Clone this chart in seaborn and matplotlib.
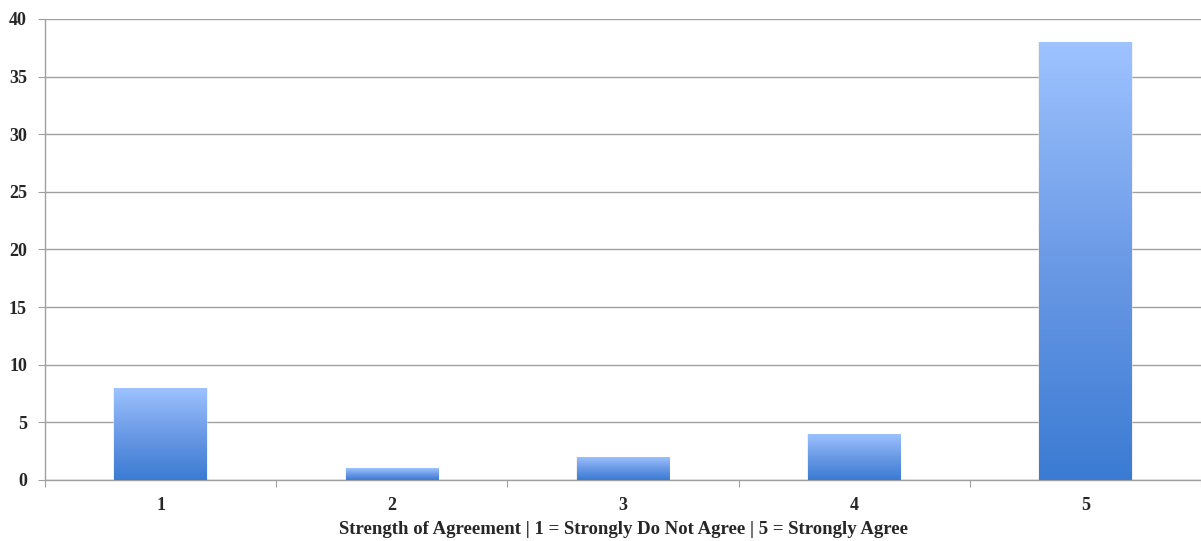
import numpy as np
import pandas as pd
import matplotlib
matplotlib.use("Agg")
import matplotlib.pyplot as plt
import seaborn as sns
from matplotlib.colors import LinearSegmentedColormap

categories = ["1", "2", "3", "4", "5"]
counts = [8, 1, 2, 4, 38]
y_ticks = [0, 5, 10, 15, 20, 25, 30, 35, 40]
x_label = "Strength of Agreement | 1 = Strongly Do Not Agree | 5 = Strongly Agree"

df = pd.DataFrame({"category": categories, "count": counts})

sns.set_style("white")
plt.rcParams["font.family"] = ["Liberation Serif", "DejaVu Serif"]

fig = plt.figure(figsize=(12.01, 5.41), dpi=100)
ax = fig.add_axes([0.0375, 0.1128, 0.9625, 0.8521])

sns.barplot(data=df, x="category", y="count", color="#5b8fe0", width=0.4, ax=ax, zorder=3)

ax.set_ylim(0, 40)
ax.set_xlim(-0.5, 4.5)
ax.set_yticks(y_ticks)
ax.set_yticklabels([str(v) for v in y_ticks], fontsize=13, fontweight="bold")
ax.yaxis.grid(True, color="#a0a0a0", linewidth=1.0, zorder=0)
ax.set_axisbelow(True)

# gradient fill
cmap = LinearSegmentedColormap.from_list("grad", ["#3b7bd3", "#6b9ae6", "#9ec3ff"])
grad = np.linspace(0, 1, 256).reshape(-1, 1)
for p in ax.patches:
    x0, y0 = p.get_x(), p.get_y()
    w, h = p.get_width(), p.get_height()
    ax.bar(x0 + w / 2, h, width=w * 1.02, bottom=0, color="#e4e4e4", zorder=2, linewidth=0, alpha=0.5)
    im = ax.imshow(grad, extent=[x0, x0 + w, y0, y0 + h], origin="lower", cmap=cmap,
                   aspect="auto", zorder=4, interpolation="bicubic")
    im.set_clip_path(p)
    p.set_facecolor("none")
    p.set_edgecolor("none")

ax.set_xlim(-0.5, 4.5)
ax.set_ylim(0, 40)

# x ticks at category boundaries, labels centered
ax.set_xticks([i - 0.5 for i in range(len(categories) + 1)], minor=False)
ax.set_xticklabels([""] * (len(categories) + 1))
ax.set_xticks(range(len(categories)), minor=True)
ax.set_xticklabels(categories, minor=True, fontsize=13, fontweight="bold")
ax.tick_params(axis="x", which="major", length=5, color="#a0a0a0", direction="out", bottom=True)
ax.tick_params(axis="x", which="minor", length=0, pad=12)
ax.tick_params(axis="y", length=5, color="#a0a0a0", direction="out", left=True, pad=8)

for s in ["top", "right"]:
    ax.spines[s].set_visible(False)
for s in ["left", "bottom"]:
    ax.spines[s].set_color("#a0a0a0")
    ax.spines[s].set_linewidth(1.0)

ax.set_ylabel("")
ax.set_xlabel(x_label, fontsize=13.5, fontweight="bold", labelpad=5)

fig.savefig("out.png", dpi=100)
